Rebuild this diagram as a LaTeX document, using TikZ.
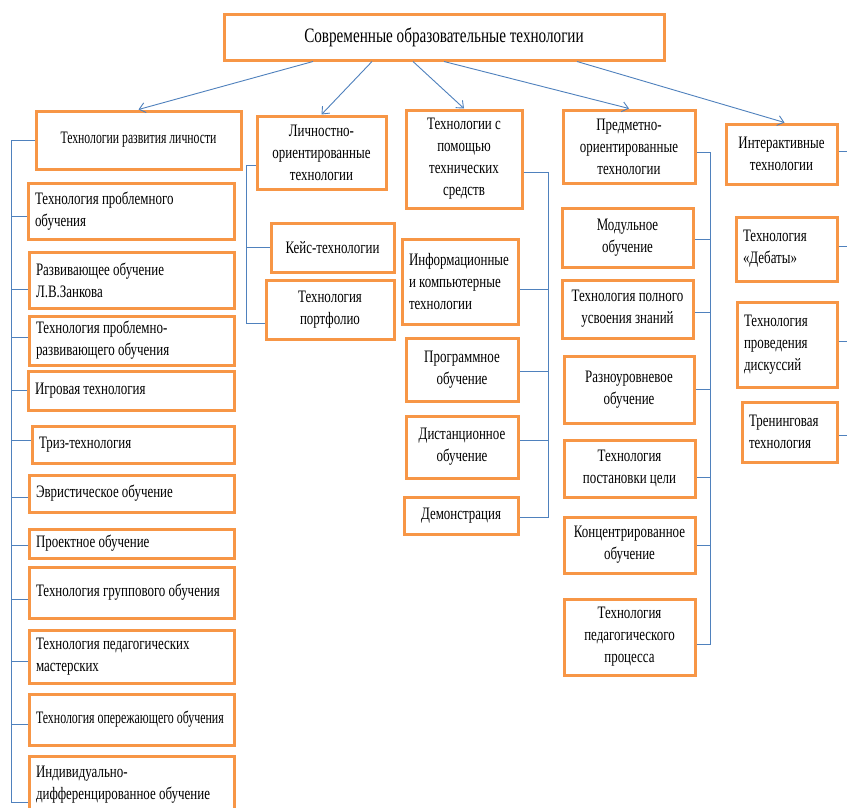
\documentclass[tikz,border=0pt]{standalone}
\usepackage{fontspec}
\setmainfont{Liberation Serif}[FakeStretch=0.74]
\newfontfamily\narf{Liberation Serif}[FakeStretch=0.68]
\newfontfamily\narg{Liberation Serif}[FakeStretch=0.67]
\usetikzlibrary{arrows.meta}
\definecolor{boxor}{HTML}{F79646}
\definecolor{lnblue}{HTML}{4F81BD}
\newcommand\bxfont{\fontsize{17.5}{22}\selectfont}
\tikzset{
  bx/.style={draw=boxor, line width=3pt, fill=white, inner xsep=7pt, inner ysep=1pt,
    font=\bxfont, align=flush center},
  lbx/.style={bx, align=flush left},
  conn/.style={draw=lnblue, line width=0.9pt},
  arr/.style={conn, -{Straight Barb[length=6pt,width=10pt]}},
  title/.style={bx, font=\fontsize{20.5}{24}\selectfont}
}
\begin{document}
\begin{tikzpicture}[x=1pt,y=-1pt]
\useasboundingbox[fill=white] (0,0) rectangle (847,807);
% top
\node[title, text width=426pt, minimum height=46pt] (top) at (444,37) {Современные образовательные технологии};
% level 1
\node[bx, text width=191pt, minimum height=58pt, font=\narg\bxfont] (b1) at (138.5,140) {Технологии развития личности};
\node[bx, text width=115pt, minimum height=73pt] (b2) at (321.5,152.5) {Личностно-\\ориентированные\\технологии};
\node[bx, text width=102pt, minimum height=98pt] (b3) at (464,159) {Технологии с\\помощью\\технических\\средств};
\node[bx, text width=118pt, minimum height=73pt] (b4) at (629,146.5) {Предметно-\\ориентированные\\технологии};
\node[bx, text width=97pt, minimum height=60pt] (b5) at (781.5,154) {Интерактивные\\технологии};
% arrows
\draw[arr] ([xshift=-131pt]top.south) -- (b1.north);
\draw[arr] ([xshift=-72pt]top.south) -- (b2.north);
\draw[arr] ([xshift=-31pt]top.south) -- (b3.north);
\draw[arr] (top.south) -- (b4.north);
\draw[arr] ([xshift=133pt]top.south) -- ([xshift=3pt]b5.north);
% left column
\node[lbx, text width=192pt, minimum height=56pt] (L1) at (131,211) {Технология проблемного\\обучения};
\node[lbx, text width=191pt, minimum height=56pt] (L2) at (131.5,280) {Развивающее обучение\\Л.В.Занкова};
\node[lbx, text width=191pt, minimum height=49pt] (L3) at (131.5,340.5) {Технология проблемно-\\развивающего обучения};
\node[lbx, text width=192pt, minimum height=39pt] (L4) at (131,390.5) {Игровая технология};
\node[lbx, text width=188pt, minimum height=37pt] (L5) at (133,444.5) {Триз-технология};
\node[lbx, text width=191pt, minimum height=37pt] (L6) at (131.5,493.5) {Эвристическое обучение};
\node[lbx, text width=191pt, minimum height=29pt] (L7) at (131.5,543.5) {Проектное обучение};
\node[lbx, text width=191pt, minimum height=51pt] (L8) at (131.5,592.5) {Технология группового обучения};
\node[lbx, text width=191pt, minimum height=53pt] (L9) at (131.5,656.5) {Технология педагогических\\мастерских};
\node[lbx, text width=191pt, minimum height=51pt, font=\narf\bxfont] (L10) at (131.5,719.5) {Технология опережающего обучения};
\node[lbx, text width=191pt, minimum height=58pt] (L11) at (131.5,785) {Индивидуально-\\дифференцированное обучение};
\coordinate (ls) at (11,140);
\coordinate (L11s) at ([yshift=-17pt]L11.west);
\draw[conn] (b1.west) -| (ls |- L11s) -- (L11s);
\foreach \n/\s in {L1/-5,L2/-9,L3/3.5,L4/0,L5/4,L6/-3.5,L7/-1.5,L8/-6.5,L9/-4.5,L10/-4.5}{
  \coordinate (tmp) at ([yshift=\s pt]\n.west);
  \draw[conn] (ls |- tmp) -- (tmp);}
% column 2
\node[bx, text width=109pt, minimum height=49pt] (K1) at (332.5,247.5) {Кейс-технологии};
\node[bx, text width=114pt, minimum height=59pt] (K2) at (330,309.5) {Технология\\портфолио};
\coordinate (ks) at (246,165);
\coordinate (K2s) at ([yshift=-13.5pt]K2.west);
\draw[conn] ([yshift=-12.5pt]b2.west) -| (ks |- K2s) -- (K2s);
\draw[conn] (ks |- K1.west) -- (K1.west);
% column 3
\node[lbx, text width=102pt, minimum height=85pt] (T1) at (460,281.5) {Информационные\\и компьютерные\\технологии};
\node[bx, text width=98pt, minimum height=63pt] (T2) at (462,369.5) {Программное\\обучение};
\node[bx, text width=98pt, minimum height=62pt] (T3) at (462,447) {Дистанционное\\обучение};
\node[bx, text width=100pt, minimum height=37pt] (T4) at (461,515.5) {Демонстрация};
\coordinate (ts) at (548,172);
\coordinate (T4s) at ([yshift=-1.5pt]T4.east);
\draw[conn] ([yshift=-13pt]b3.east) -| (ts |- T4s) -- (T4s);
\foreach \n/\s in {T1/-7.5,T2/-1.5,T3/7}{
  \coordinate (tmp) at ([yshift=\s pt]\n.east);
  \draw[conn] (ts |- tmp) -- (tmp);}
% column 4
\node[bx, text width=117pt, minimum height=59pt] (P1) at (627.5,237.5) {Модульное\\обучение};
\node[bx, text width=117pt, minimum height=58pt] (P2) at (627.5,309) {Технология полного\\усвоения знаний};
\node[bx, text width=116pt, minimum height=67pt] (P3) at (629,389.5) {Разноуровневое\\обучение};
\node[bx, text width=117pt, minimum height=57pt] (P4) at (629.5,468.5) {Технология\\постановки цели};
\node[bx, text width=117pt, minimum height=56pt] (P5) at (629.5,545) {Концентрированное\\обучение};
\node[bx, text width=117pt, minimum height=76pt] (P6) at (629.5,637) {Технология\\педагогического\\процесса};
\coordinate (ps) at (710,152);
\coordinate (P6s) at ([yshift=-7pt]P6.east);
\draw[conn] ([yshift=-5.5pt]b4.east) -| (ps |- P6s) -- (P6s);
\foreach \n/\s in {P1/-1.5,P2/-3,P3/0,P4/-8.5,P5/0}{
  \coordinate (tmp) at ([yshift=\s pt]\n.east);
  \draw[conn] (ps |- tmp) -- (tmp);}
% column 5
\node[lbx, text width=87pt, minimum height=64pt] (I1) at (786.5,249) {Технология\\«Дебаты»};
\node[lbx, text width=86pt, minimum height=85pt] (I2) at (787,344.5) {Технология\\проведения\\дискуссий};
\node[lbx, text width=81pt, minimum height=60pt] (I3) at (789.5,432) {Тренинговая\\технология};
\coordinate (is) at (847,151);
\draw[conn] ([yshift=3pt]b5.east) -- (is);
\foreach \n/\s in {I1/3,I2/3.5,I3/-3}{
  \coordinate (tmp) at ([yshift=\s pt]\n.east);
  \draw[conn] (tmp) -- (is |- tmp);}
\end{tikzpicture}
\end{document}
